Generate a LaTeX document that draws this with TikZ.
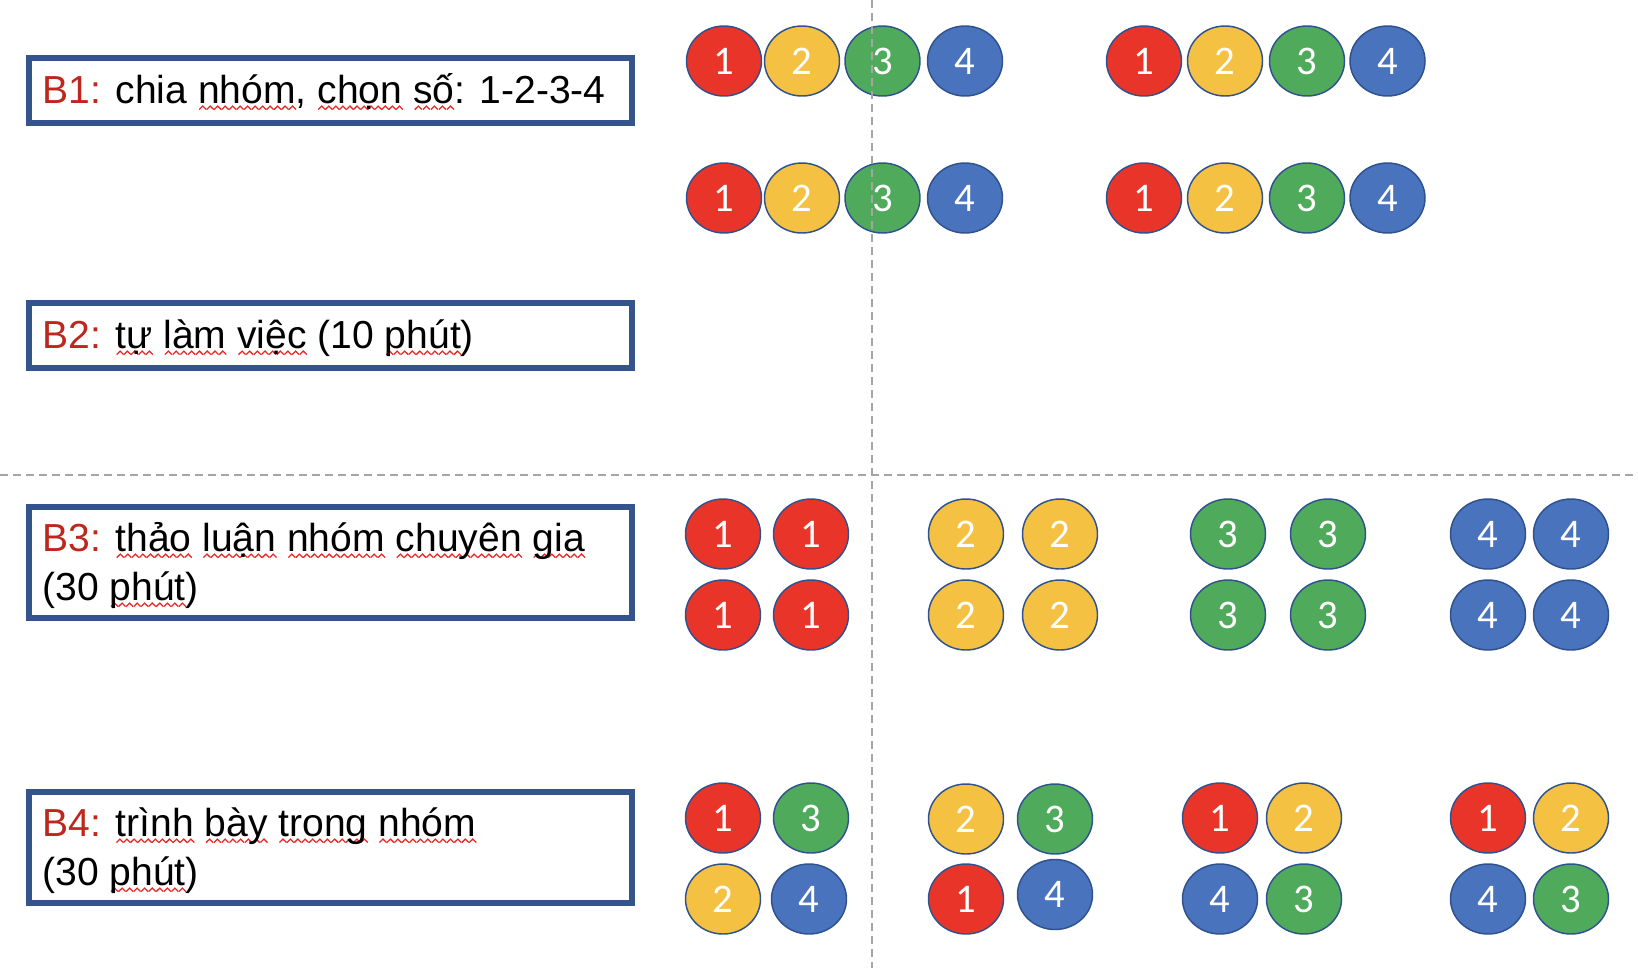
\documentclass[tikz,border=0pt]{standalone}
\usepackage{fontspec}
\setmainfont{Liberation Sans}
\newfontfamily\numfont{Carlito}
\usetikzlibrary{shapes.geometric}

\definecolor{boxblue}{RGB}{54,84,140}
\definecolor{ballline}{RGB}{47,82,143}
\definecolor{ballred}{RGB}{233,53,41}
\definecolor{ballyellow}{RGB}{245,193,66}
\definecolor{ballgreen}{RGB}{79,171,91}
\definecolor{ballblue}{RGB}{74,115,189}
\definecolor{labelred}{RGB}{190,38,30}
\definecolor{spellred}{RGB}{235,40,40}
\definecolor{dashgray}{RGB}{165,165,165}

% wavy spell-check underline
\newsavebox\wavebit
\newsavebox\wordbox
\AtBeginDocument{\global\setbox\wavebit=\hbox to 5.25pt{\begin{pgfpicture}
  \pgfsetlinewidth{0.95pt}
  \pgfsetstrokecolor{spellred}
  \pgfpathmoveto{\pgfpoint{0pt}{0pt}}
  \pgfpathlineto{\pgfpoint{2.625pt}{2.6pt}}
  \pgfpathlineto{\pgfpoint{5.25pt}{0pt}}
  \pgfusepath{stroke}
\end{pgfpicture}\hss}}
\newcommand{\wavy}[1]{\sbox\wordbox{#1}\rlap{\raisebox{-5.4pt}{\hbox to\wd\wordbox{\xleaders\copy\wavebit\hfil}}}\usebox\wordbox}

\tikzset{every picture/.style={line width=0.75pt}}
\tikzset{
  stepbox/.style={draw=boxblue, line width=4.5pt, minimum width=452.25pt, inner sep=0pt},
  steptext/.style={inner sep=0pt, align=left, anchor=base west, font=\fontsize{29.3pt}{36.75pt}\selectfont},
  ball/.style={ellipse, draw=ballline, line width=1.1pt, minimum width=56.25pt, minimum height=52.5pt, inner sep=0pt, text=white, font=\numfont\fontsize{30.5pt}{36pt}\selectfont},
  kred/.style={ball, fill=ballred},
  kyellow/.style={ball, fill=ballyellow},
  kgreen/.style={ball, fill=ballgreen},
  kblue/.style={ball, fill=ballblue},
  divider/.style={draw=dashgray, line width=1.5pt, dash pattern=on 6pt off 3.75pt}
}

\begin{document}
\begin{tikzpicture}[x=0.75pt,y=0.75pt,yscale=-1,xscale=1]
\useasboundingbox (0,0) rectangle (1638,968);

%Step boxes
\node [stepbox, minimum height=48.75pt] (b1box) at (330.5,90.5) {};
\node [stepbox, minimum height=48.75pt] (b2box) at (330.5,335.5) {};
\node [stepbox, minimum height=83.25pt] (b3box) at (330.5,562.5) {};
\node [stepbox, minimum height=83.25pt] (b4box) at (330.5,847) {};

% Text Node
\node [steptext] (b1) at (42,103) {\textcolor{labelred}{B1:} chia \wavy{nhóm}, \wavy{chọn} \wavy{số}: 1-2-3-4};
% Text Node
\node [steptext] (b2) at (42,348) {\textcolor{labelred}{B2:} \wavy{tự} \wavy{làm} \wavy{việc} (10 \wavy{phút})};
% Text Node (base = last line)
\node [steptext] (b3) at (42,600) {\textcolor{labelred}{B3:} \wavy{thảo} \wavy{luận} \wavy{nhóm} \wavy{chuyên} \wavy{gia}\\(30 \wavy{phút})};
% Text Node (base = last line)
\node [steptext] (b4) at (42,885) {\textcolor{labelred}{B4:} \wavy{trình} \wavy{bày} \wavy{trong} \wavy{nhóm}\\(30 \wavy{phút})};

%B1 groups, row 1
\node [kred] (jA1) at (724,61) {1};
\node [kyellow] (jA2) at (802,61) {2};
\node [kgreen] (jA3) at (882.5,61) {3};
\node [kblue] (jA4) at (965,61) {4};
\node [kred] (jB1) at (1144,61) {1};
\node [kyellow] (jB2) at (1225,61) {2};
\node [kgreen] (jB3) at (1307,61) {3};
\node [kblue] (jB4) at (1387.5,61) {4};
%B1 groups, row 2
\node [kred] (jC1) at (724,198) {1};
\node [kyellow] (jC2) at (802,198) {2};
\node [kgreen] (jC3) at (882.5,198) {3};
\node [kblue] (jC4) at (965,198) {4};
\node [kred] (jD1) at (1144,198) {1};
\node [kyellow] (jD2) at (1225,198) {2};
\node [kgreen] (jD3) at (1307,198) {3};
\node [kblue] (jD4) at (1387.5,198) {4};

%B3 expert groups
\node [kred] (e1a) at (723,534) {1};
\node [kred] (e1b) at (811,534) {1};
\node [kred] (e1c) at (723,615) {1};
\node [kred] (e1d) at (811,615) {1};
\node [kyellow] (e2a) at (966,534) {2};
\node [kyellow] (e2b) at (1060,534) {2};
\node [kyellow] (e2c) at (966,615) {2};
\node [kyellow] (e2d) at (1060,615) {2};
\node [kgreen] (e3a) at (1228,534) {3};
\node [kgreen] (e3b) at (1328,534) {3};
\node [kgreen] (e3c) at (1228,615) {3};
\node [kgreen] (e3d) at (1328,615) {3};
\node [kblue] (e4a) at (1488,534) {4};
\node [kblue] (e4b) at (1571,534) {4};
\node [kblue] (e4c) at (1488,615) {4};
\node [kblue] (e4d) at (1571,615) {4};

%B4 home groups
\node [kred] (h1a) at (723,818) {1};
\node [kgreen] (h1b) at (811,818) {3};
\node [kyellow] (h1c) at (723,899) {2};
\node [kblue] (h1d) at (809,899) {4};
\node [kyellow] (h2a) at (966,819) {2};
\node [kgreen] (h2b) at (1055,819) {3};
\node [kred] (h2c) at (966,899) {1};
\node [kblue] (h2d) at (1055,894.5) {4};
\node [kred] (h3a) at (1220,818) {1};
\node [kyellow] (h3b) at (1304,818) {2};
\node [kblue] (h3c) at (1220,899) {4};
\node [kgreen] (h3d) at (1304,899) {3};
\node [kred] (h4a) at (1488,818) {1};
\node [kyellow] (h4b) at (1571,818) {2};
\node [kblue] (h4c) at (1488,899) {4};
\node [kgreen] (h4d) at (1571,899) {3};

%Dashed dividers
\coordinate (vtop) at (872,0);
\coordinate (vbot) at (872,968);
\coordinate (hleft) at (0,475);
\coordinate (hright) at (1638,475);
\draw [divider] (vtop) -- (vbot);
\draw [divider] (hleft) -- (hright);

\end{tikzpicture}
\end{document}
